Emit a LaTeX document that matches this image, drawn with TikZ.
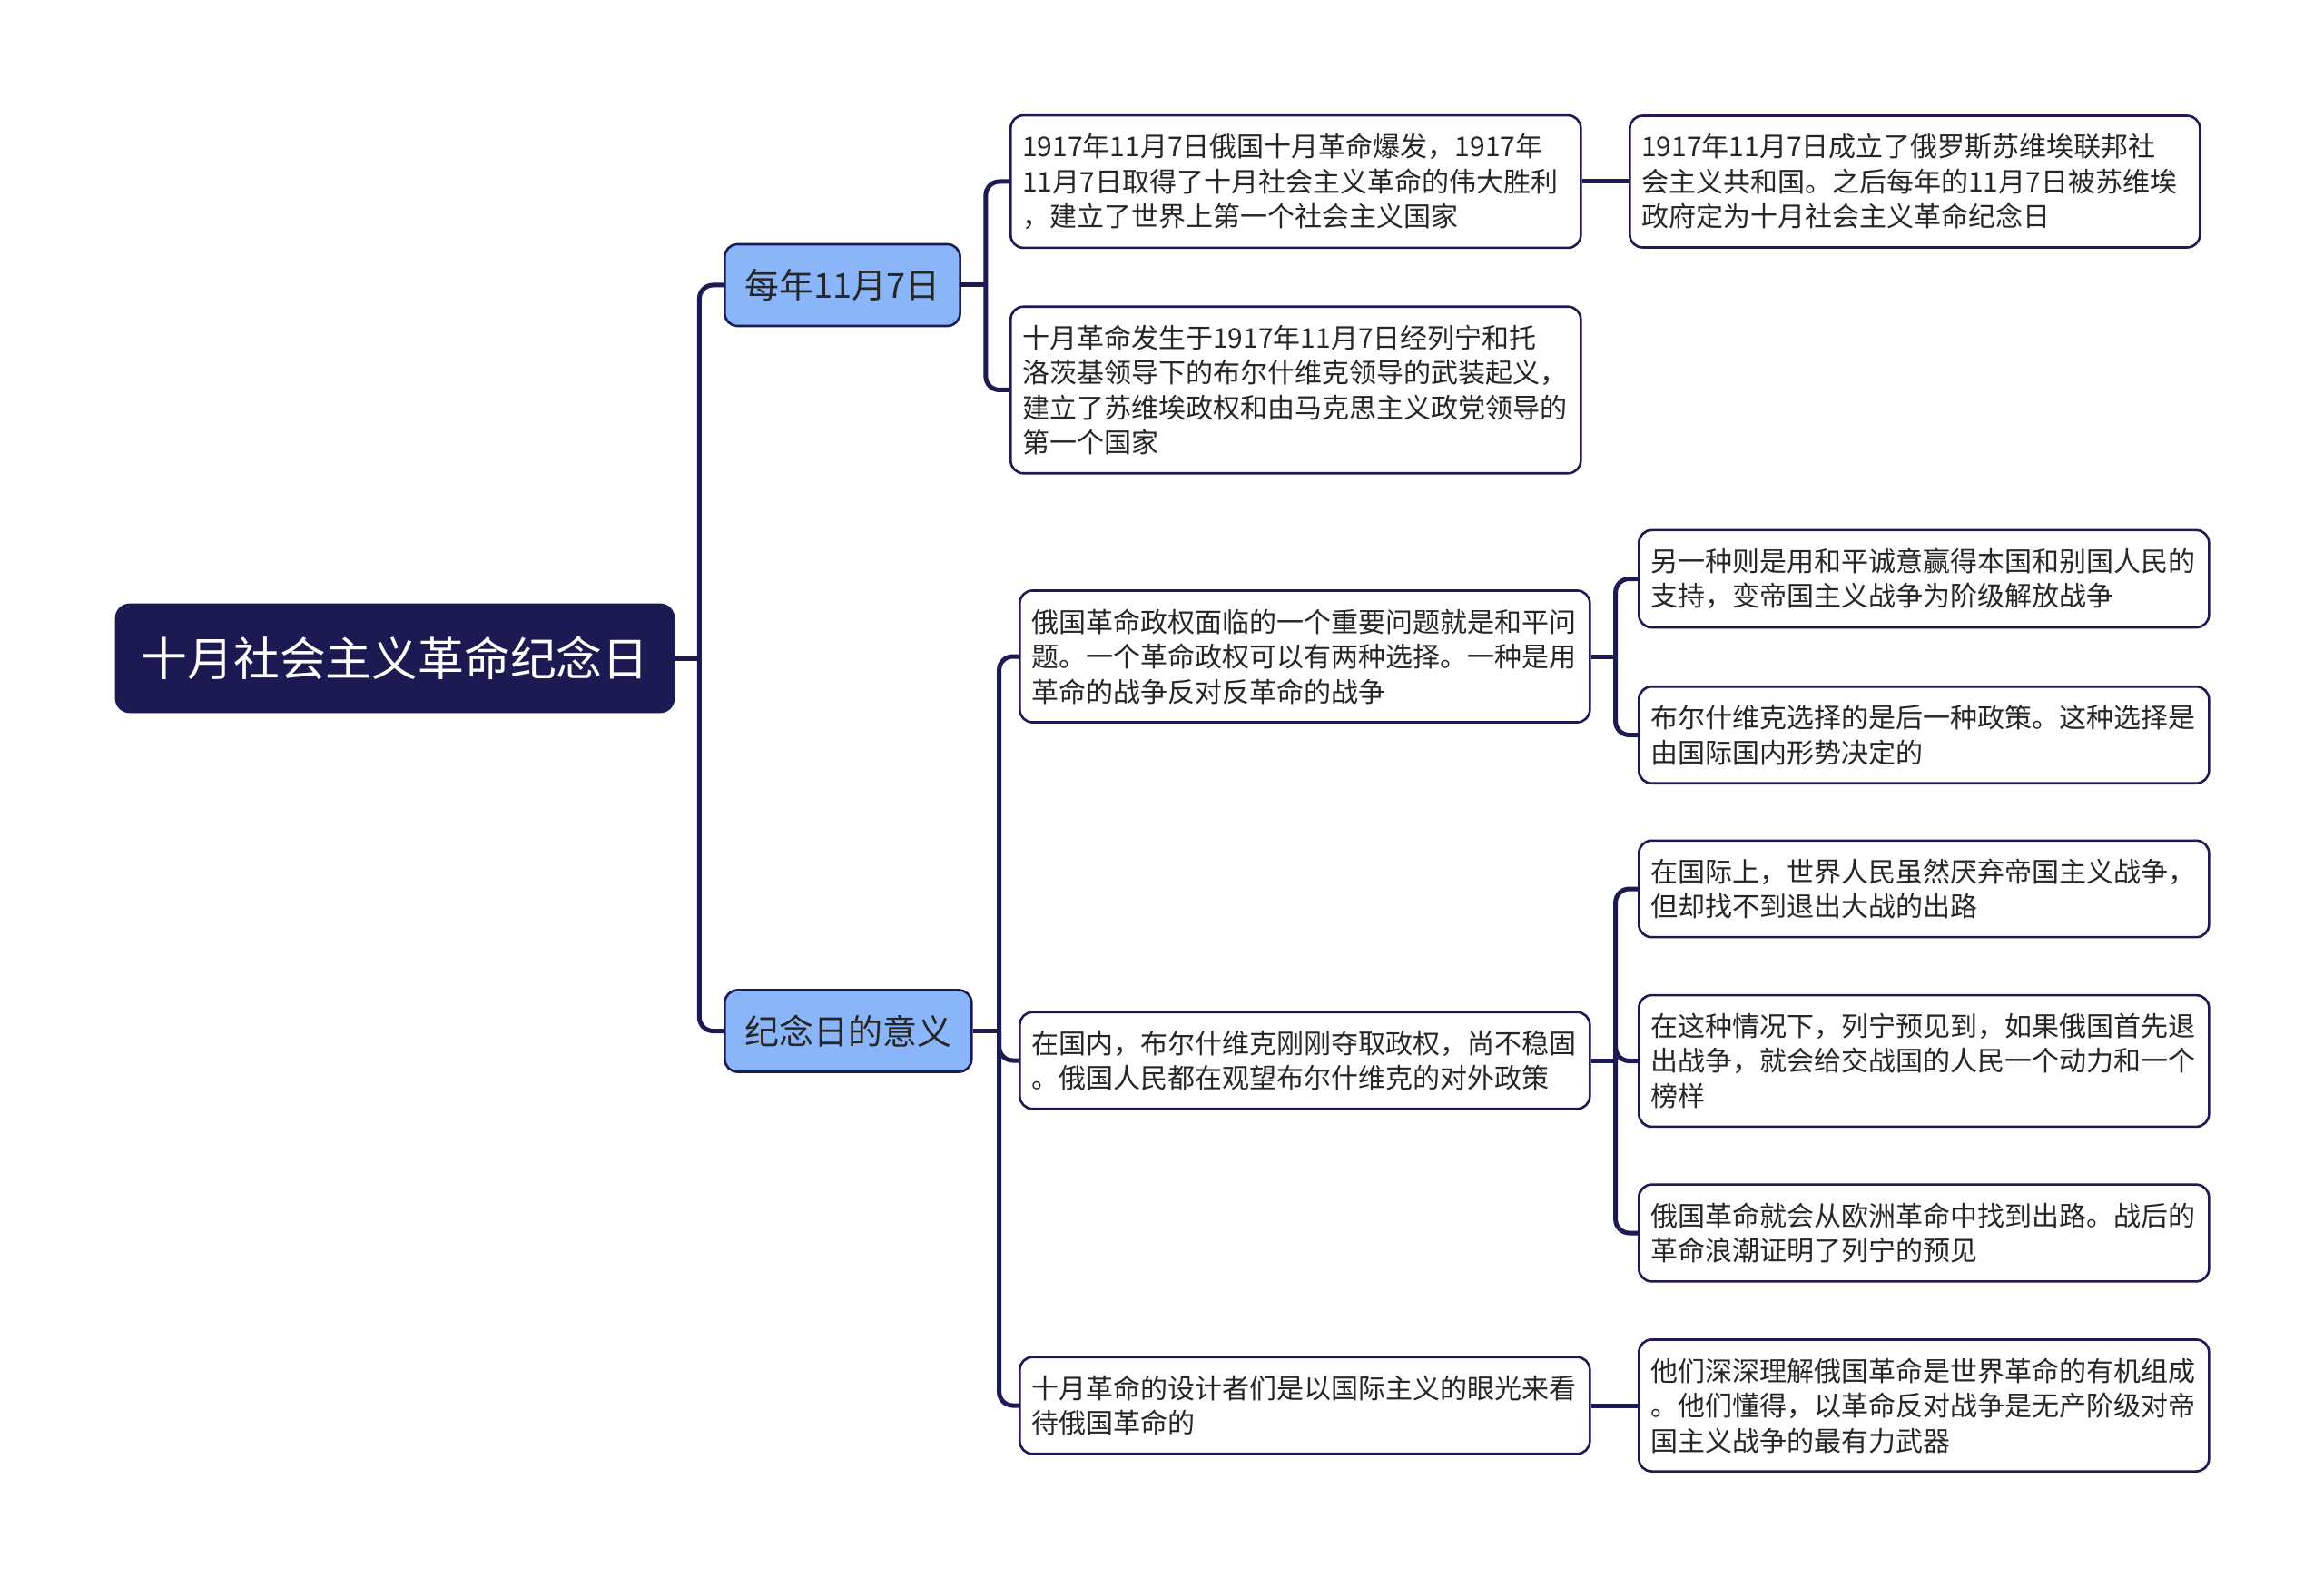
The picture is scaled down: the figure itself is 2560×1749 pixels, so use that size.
\documentclass[tikz,border=0pt]{standalone}
\usepackage{fontspec}
\setmainfont{Noto Sans CJK SC}
\definecolor{navy}{HTML}{1B1A52}
\definecolor{sky}{HTML}{8AB6F9}
\definecolor{ink}{HTML}{262626}

\begin{document}
\begin{tikzpicture}[x=0.5pt, y=-0.5pt]
        \tikzstyle{root} = [rectangle, rounded corners=8pt, fill=navy, draw=navy, text=white, minimum width=308pt, minimum height=60pt, font=\fontsize{25.4}{30}\selectfont]
        \tikzstyle{topic} = [rectangle, rounded corners=7pt, fill=sky, draw=navy, line width=1.3pt, text=ink, minimum height=45pt, inner xsep=11pt, anchor=west, font=\fontsize{19}{23}\selectfont]
        \tikzstyle{leaf} = [rectangle, rounded corners=7pt, fill=white, draw=navy, line width=1.3pt, text=ink, text width=301pt, inner xsep=6.5pt, inner ysep=10pt, align=left, anchor=west, font=\fontsize{15}{19.25}\selectfont]
        \tikzstyle{link} = [navy, line width=2.5pt, rounded corners=7.5pt]
        \useasboundingbox (0,0) rectangle (2560,1749);
        \node (a) [root] at (435, 725) {十月社会主义革命纪念日};
        \node (b) [topic] at (797, 314) {每年11月7日};
        \node (c) [topic] at (797, 1135.5) {纪念日的意义};
        \node (d) [leaf] at (1112, 200) {1917年11月7日俄国十月革命爆发，1917年\\11月7日取得了十月社会主义革命的伟大胜利\\，建立了世界上第一个社会主义国家};
        \node (e) [leaf] at (1794, 200) {1917年11月7日成立了俄罗斯苏维埃联邦社\\会主义共和国。之后每年的11月7日被苏维埃\\政府定为十月社会主义革命纪念日};
        \node (f) [leaf] at (1112, 429.5) {十月革命发生于1917年11月7日经列宁和托\\洛茨基领导下的布尔什维克领导的武装起义，\\建立了苏维埃政权和由马克思主义政党领导的\\第一个国家};
        \node (g) [leaf] at (1122, 723) {俄国革命政权面临的一个重要问题就是和平问\\题。一个革命政权可以有两种选择。一种是用\\革命的战争反对反革命的战争};
        \node (h) [leaf] at (1804, 637.5) {另一种则是用和平诚意赢得本国和别国人民的\\支持，变帝国主义战争为阶级解放战争};
        \node (i) [leaf] at (1804, 809.5) {布尔什维克选择的是后一种政策。这种选择是\\由国际国内形势决定的};
        \node (j) [leaf] at (1122, 1168) {在国内，布尔什维克刚刚夺取政权，尚不稳固\\。俄国人民都在观望布尔什维克的对外政策};
        \node (k) [leaf] at (1804, 979) {在国际上，世界人民虽然厌弃帝国主义战争，\\但却找不到退出大战的出路};
        \node (l) [leaf] at (1804, 1168.5) {在这种情况下，列宁预见到，如果俄国首先退\\出战争，就会给交战国的人民一个动力和一个\\榜样};
        \node (m) [leaf] at (1804, 1358) {俄国革命就会从欧洲革命中找到出路。战后的\\革命浪潮证明了列宁的预见};
        \node (n) [leaf] at (1122, 1548) {十月革命的设计者们是以国际主义的眼光来看\\待俄国革命的};
        \node (o) [leaf] at (1804, 1548) {他们深深理解俄国革命是世界革命的有机组成\\。他们懂得，以革命反对战争是无产阶级对帝\\国主义战争的最有力武器};
        \draw[link] (a.east) -- ++(27, 0) coordinate (p);
        \draw[link] (p) |- (b.west);
        \draw[link] (p) |- (c.west);
        \draw[link] (b.east) -- ++(27, 0) coordinate (q);
        \draw[link] (q) |- (d.west);
        \draw[link] (q) |- (f.west);
        \draw[link] (d) -- (e);
        \draw[link] (c.east) -- ++(29, 0) coordinate (r);
        \draw[link] (r) |- (g.west);
        \draw[link] (r) |- (j.west);
        \draw[link] (r) |- (n.west);
        \draw[link] (g.east) -- ++(27, 0) coordinate (s);
        \draw[link] (s) |- (h.west);
        \draw[link] (s) |- (i.west);
        \draw[link] (j.east) -- ++(27, 0) coordinate (t);
        \draw[link] (t) |- (k.west);
        \draw[link] (t) |- (l.west);
        \draw[link] (t) |- (m.west);
        \draw[link] (n) -- (o);
    \end{tikzpicture}
\end{document}
